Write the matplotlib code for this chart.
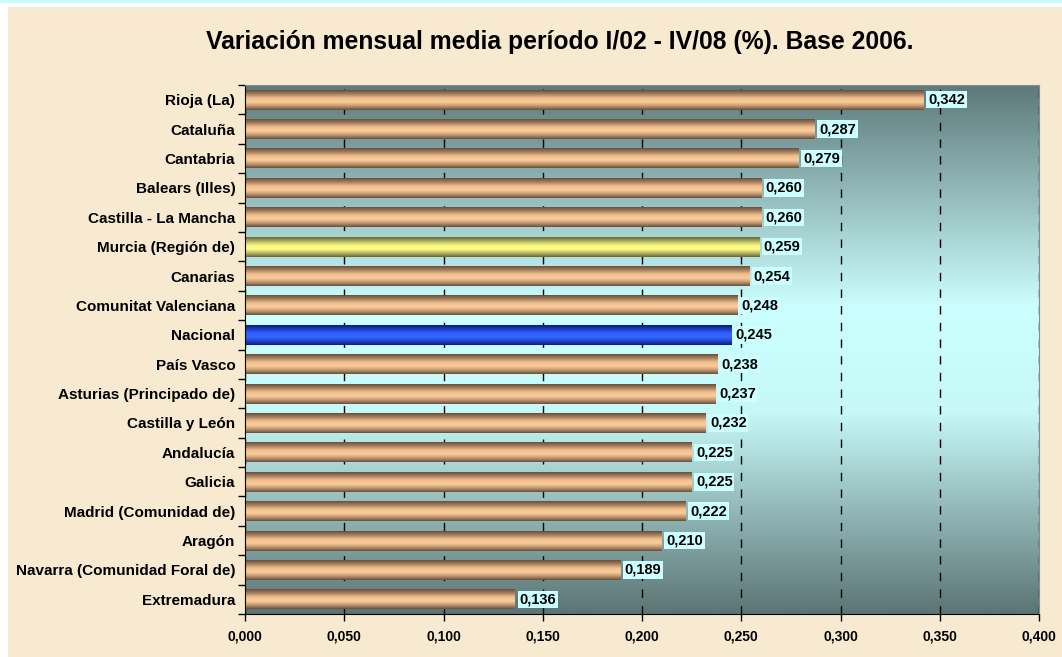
import numpy as np
import matplotlib
matplotlib.use("Agg")
import matplotlib.pyplot as plt
from matplotlib.colors import LinearSegmentedColormap
from matplotlib.patches import Rectangle

plt.rcParams["font.family"] = ["Liberation Sans", "DejaVu Sans"]
plt.rcParams["font.weight"] = "bold"

regions = [
    "Rioja (La)", "Cataluña", "Cantabria", "Balears (Illes)",
    "Castilla - La Mancha", "Murcia (Región de)", "Canarias",
    "Comunitat Valenciana", "Nacional", "País Vasco",
    "Asturias (Principado de)", "Castilla y León", "Andalucía", "Galicia",
    "Madrid (Comunidad de)", "Aragón", "Navarra (Comunidad Foral de)",
    "Extremadura",
]
values = [0.342, 0.287, 0.279, 0.260, 0.260, 0.259, 0.254, 0.248, 0.245,
          0.238, 0.237, 0.232, 0.225, 0.225, 0.222, 0.210, 0.189, 0.136]
highlight = {"Murcia (Región de)": "yellow", "Nacional": "blue"}
xticks = [0.0, 0.05, 0.10, 0.15, 0.20, 0.25, 0.30, 0.35, 0.40]

title = "Variación mensual media período I/02 - IV/08 (%). Base 2006."

# cylinder-like colour ramps for the bars
ramps = {
    "copper": LinearSegmentedColormap.from_list(
        "copper", ["#6a4e3c", "#a8825f", "#f0c090", "#ffcc99", "#c09a74", "#6a4e3c"]),
    "yellow": LinearSegmentedColormap.from_list(
        "yellow", ["#66663a", "#b0b060", "#f4f480", "#ffff88", "#b8b864", "#66663a"]),
    "blue": LinearSegmentedColormap.from_list(
        "blue", ["#0c1c78", "#1d3ac4", "#3060ff", "#3366ff", "#2244cc", "#0c1c78"]),
}
bg_cmap = LinearSegmentedColormap.from_list(
    "bg", [(0.0, "#5c7474"), (0.38, "#c6f8f8"), (0.58, "#ccffff"), (1.0, "#5e7a7a")])

fig = plt.figure(figsize=(10.62, 6.57), dpi=100)
fig.patch.set_facecolor("white")
fig.add_artist(Rectangle((8 / 1062, 0), 1, 650 / 657, transform=fig.transFigure,
                         facecolor="#f8ead0", edgecolor="none", zorder=-10))
fig.add_artist(Rectangle((0, 1 - 3 / 657), 1, 3 / 657, transform=fig.transFigure,
                         facecolor="#c8fcfc", edgecolor="none", zorder=-9))

ax = fig.add_axes([245 / 1062, 43 / 657, 794 / 1062, 529 / 657])

# plot area gradient
grad = np.linspace(0, 1, 256).reshape(-1, 1)
ax.imshow(grad, cmap=bg_cmap, extent=[0, 1, 0, 1], transform=ax.transAxes,
          aspect="auto", origin="lower", zorder=0.1, interpolation="bilinear")

ys = np.arange(len(regions))
bars = ax.barh(ys, values, height=0.68, color="none", zorder=2)
strip = np.linspace(0, 1, 64).reshape(-1, 1)
for name, patch in zip(regions, bars):
    x0, y0, w, h = patch.get_bbox().bounds
    cmap = ramps[highlight.get(name, "copper")]
    ax.imshow(strip, cmap=cmap, extent=[x0, x0 + w, y0 + h, y0], aspect="auto",
              origin="upper", zorder=2, interpolation="bilinear")

for y, v in zip(ys, values):
    ax.text(v + 0.0022, y, f"{v:.3f}".replace(".", ","), va="center", ha="left",
            fontsize=10.5, fontweight="bold", zorder=4,
            bbox=dict(boxstyle="square,pad=0.12", facecolor="#ccffff", edgecolor="none"))

ax.set_xlim(0, 0.4)
ax.set_ylim(len(regions) - 0.5, -0.5)

ax.set_xticks(xticks)
ax.set_xticklabels([f"{t:.3f}".replace(".", ",") for t in xticks],
                   fontsize=10, fontweight="bold")
ax.set_yticks(ys)
ax.set_yticklabels(regions, fontsize=11, fontweight="bold")
ax.set_yticks(np.arange(-0.5, len(regions)), minor=True)
ax.tick_params(axis="y", which="major", length=0, pad=7)
ax.tick_params(axis="y", which="minor", length=5, direction="out", width=1)
ax.tick_params(axis="x", length=5, direction="out", width=1, pad=6)

ax.set_axisbelow(True)
ax.xaxis.grid(True, color="black", linestyle=(0, (6, 6)), linewidth=1)

for side in ["left", "bottom"]:
    ax.spines[side].set_color("black")
for side in ["top", "right"]:
    ax.spines[side].set_color("#8a8a8a")

fig.text(560 / 1062, 1 - 42 / 657, title, ha="center", va="center",
         fontsize=17.8, fontweight="bold")

fig.savefig("out.png", dpi=100)
